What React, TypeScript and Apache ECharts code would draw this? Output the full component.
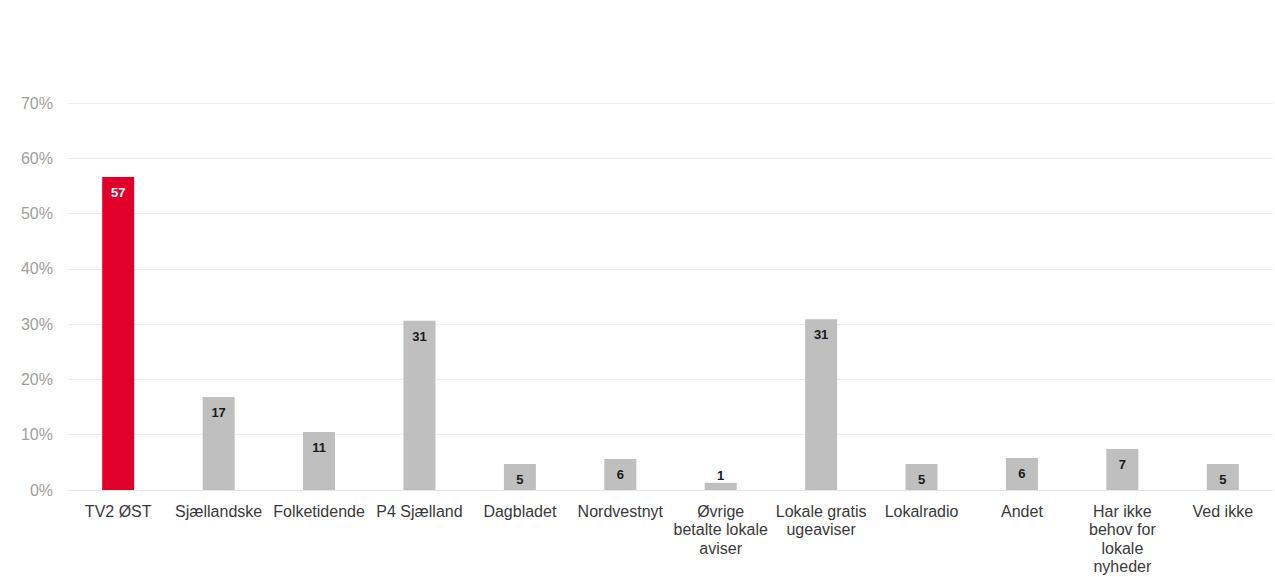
import React, { useEffect, useRef } from "react";
import * as echarts from "echarts";

const categories = [
  "TV2 ØST",
  "Sjællandske",
  "Folketidende",
  "P4 Sjælland",
  "Dagbladet",
  "Nordvestnyt",
  "Øvrige\nbetalte lokale\naviser",
  "Lokale gratis\nugeaviser",
  "Lokalradio",
  "Andet",
  "Har ikke\nbehov for\nlokale\nnyheder",
  "Ved ikke",
];
const values = [56.6, 16.8, 10.5, 30.6, 4.7, 5.6, 1.3, 30.9, 4.7, 5.8, 7.4, 4.7];
const highlightIndex = 0;

export default function App() {
  const ref = useRef<HTMLDivElement>(null);
  useEffect(() => {
    if (!ref.current) return;
    const chart = echarts.init(ref.current, null, { renderer: "svg" });
    chart.setOption({
      animation: false,
      grid: { left: 68, right: 2, top: 103, bottom: 87, containLabel: false },
      xAxis: {
        type: "category",
        data: categories,
        axisLine: { lineStyle: { color: "#e6e6e6" } },
        axisTick: { show: false },
        axisLabel: {
          interval: 0,
          color: "#3a3a3a",
          fontFamily: "Liberation Sans, Arial, sans-serif",
          fontSize: 16,
          lineHeight: 18.5,
          margin: 12,
        },
      },
      yAxis: {
        type: "value",
        min: 0,
        max: 70,
        interval: 10,
        axisLine: { show: false },
        axisTick: { show: false },
        splitLine: { lineStyle: { color: "#ececec" } },
        axisLabel: {
          formatter: "{value}%",
          color: "#a0a0a0",
          fontFamily: "Liberation Sans, Arial, sans-serif",
          fontSize: 16,
          margin: 15,
        },
      },
      series: [
        {
          type: "bar",
          barWidth: 32,
          data: values.map((v, i) => ({
            value: v,
            itemStyle: { color: i === highlightIndex ? "#e0002a" : "#bfbfbf" },
            label: {
              show: true,
              position: v < 3 ? "top" : "insideTop",
              distance: v < 3 ? 1 : 9,
              color: i === highlightIndex ? "#ffffff" : "#1a1a1a",
              fontWeight: "bold",
              fontSize: 13,
              fontFamily: "Liberation Sans, Arial, sans-serif",
              formatter: (p: any) => String(Math.round(p.value)),
            },
          })),
        },
      ],
    });
    return () => chart.dispose();
  }, []);
  return (
    <div
      ref={ref}
      style={{ position: "absolute", left: 0, top: 0, width: 1275, height: 577, background: "#fff" }}
    />
  );
}
